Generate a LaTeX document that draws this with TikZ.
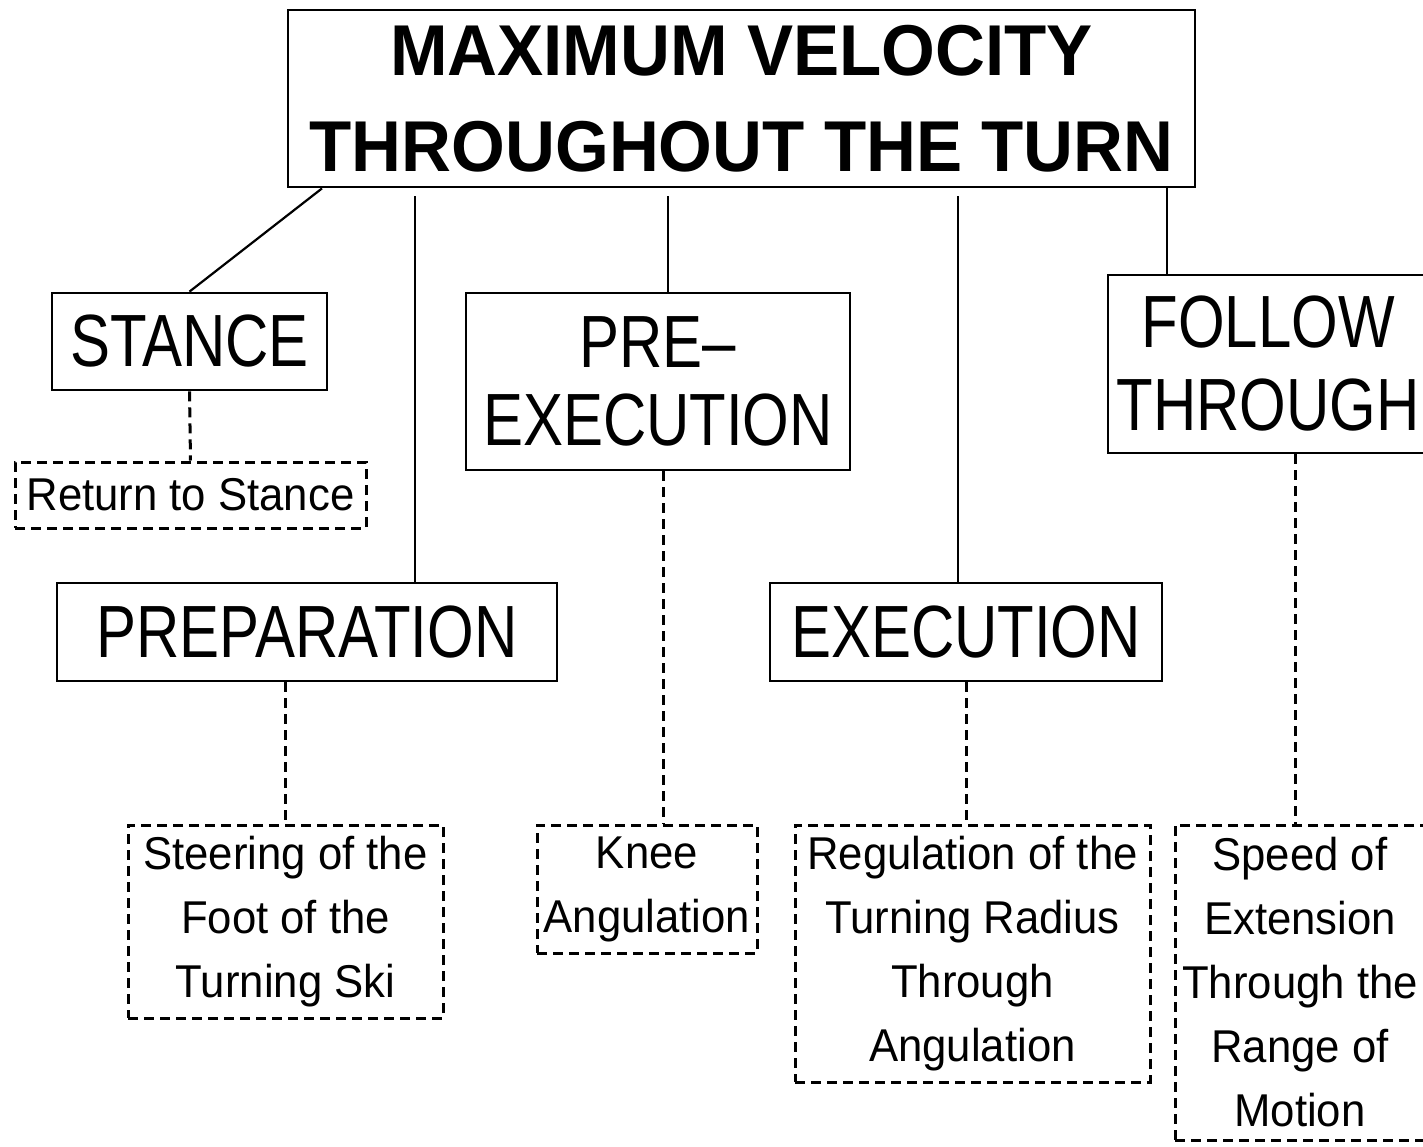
\documentclass[tikz,border=0pt]{standalone}
\usepackage{fontspec}
\newfontfamily\boxfont[FakeStretch=0.81]{Liberation Sans}
\newfontfamily\smallfont[FakeStretch=0.95]{Liberation Sans}
\newfontfamily\titlefont[FakeStretch=0.96]{Liberation Sans}
\begin{document}
\begin{tikzpicture}[x=0.5pt,y=-0.5pt,
  solidbox/.style={draw, line width=1.4pt, inner sep=0pt, align=center},
  dashbox/.style={draw, line width=1.5pt, dash pattern=on 5pt off 3pt, inner sep=0pt, align=center},
  link/.style={line width=1.1pt},
  dlink/.style={line width=1.5pt, dash pattern=on 5pt off 3pt},
  bigtext/.style={font=\boxfont\fontsize{37pt}{39pt}\selectfont},
  smalltext/.style={font=\smallfont\fontsize{23pt}{32pt}\selectfont}]
\useasboundingbox (0,0) rectangle (1423,1146);

% title
\node[solidbox, minimum width=453.5pt, minimum height=88.5pt, font=\titlefont\bfseries\fontsize{36pt}{48pt}\selectfont] (title) at (741.5,98.5) {MAXIMUM VELOCITY\\THROUGHOUT THE TURN};

% main boxes
\node[solidbox, bigtext, minimum width=137.5pt, minimum height=48.5pt] (stance) at (189.5,341.5) {STANCE};
\node[solidbox, bigtext, minimum width=192pt, minimum height=88.5pt] (preexec) at (658,381.5) {PRE–\\EXECUTION};
\node[solidbox, font=\boxfont\fontsize{37pt}{41.5pt}\selectfont, minimum width=160pt, minimum height=89pt] (follow) at (1268,364) {FOLLOW\\THROUGH};
\node[solidbox, bigtext, minimum width=250pt, minimum height=49pt] (prep) at (307,632) {PREPARATION};
\node[solidbox, bigtext, minimum width=196pt, minimum height=49pt] (exec) at (966,632) {EXECUTION};

% dashed boxes
\node[dashbox, smalltext, minimum width=175.5pt, minimum height=33pt] (ret) at (190.5,495) {Return to Stance};
\node[dashbox, smalltext, minimum width=157.5pt, minimum height=96.5pt] (steer) at (285.5,921.5) {Steering of the\\Foot of the\\Turning Ski};
\node[dashbox, smalltext, minimum width=110pt, minimum height=64pt] (knee) at (647,889) {Knee\\Angulation};
\node[dashbox, smalltext, minimum width=177.5pt, minimum height=128.5pt] (reg) at (972.5,953.5) {Regulation of the\\Turning Radius\\Through\\Angulation};
\node[dashbox, smalltext, minimum width=125pt, minimum height=157.5pt] (speed) at (1300,982.5) {Speed of\\Extension\\Through the\\Range of\\Motion};

% helper x positions
\coordinate (xa) at (322,0);
\coordinate (xb) at (415,0);
\coordinate (xc) at (668,0);
\coordinate (xd) at (958,0);
\coordinate (xe) at (1167,0);
\coordinate (xf) at (663,0);
\coordinate (xg) at (1295,0);

% solid connectors
\draw[link] (title.south -| xa) -- (stance.north);
\draw[link, shorten <=4pt] (title.south -| xb) -- (prep.north -| xb);
\draw[link, shorten <=4pt] (title.south -| xc) -- (preexec.north -| xc);
\draw[link, shorten <=4pt] (title.south -| xd) -- (exec.north -| xd);
\draw[link] (title.south -| xe) -- (follow.north -| xe);

% dashed connectors
\draw[dlink] (stance.south) -- (ret.north);
\draw[dlink] (prep.south -| steer.north) -- (steer.north);
\draw[dlink] (preexec.south -| xf) -- (knee.north -| xf);
\draw[dlink] (exec.south) -- (exec.south |- reg.north);
\draw[dlink] (follow.south -| xg) -- (speed.north -| xg);
\end{tikzpicture}
\end{document}
